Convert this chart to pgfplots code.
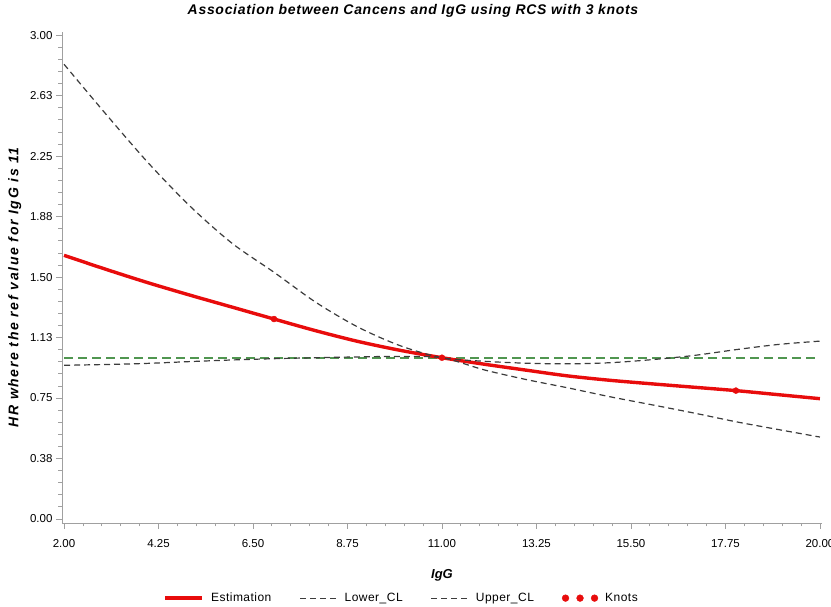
\documentclass[border=0pt]{standalone}
\usepackage{fontspec}
\setmainfont{Liberation Sans}
\newfontfamily\titlefont[LetterSpace=5]{Liberation Sans}
\newfontfamily\ylabfont[LetterSpace=12]{Liberation Sans}
\newfontfamily\legfont[LetterSpace=4]{Liberation Sans}
\usepackage{pgfplots}
\pgfplotsset{compat=1.18}
\definecolor{estred}{RGB}{232,12,12}
\definecolor{cldark}{RGB}{60,60,60}
\definecolor{refgreen}{RGB}{80,150,80}
\definecolor{axgray}{RGB}{160,160,160}
\begin{document}
\begin{tikzpicture}[x=1pt,y=1pt]
\path[use as bounding box] (-62,-84) rectangle (769,523);
\begin{axis}[
  at={(0,0)}, anchor=south west,
  scale only axis,
  width=760pt, height=491pt,
  xmin=1.952, xmax=20.05,
  ymin=-0.025, ymax=3.02,
  axis lines*=left,
  axis line style={axgray, line width=0.9pt},
  tick style={axgray, line width=0.8pt},
  tick align=outside,
  major tick length=6pt,
  minor tick length=3.5pt,
  minor tick num=4,
  xtick={2,4.25,6.5,8.75,11,13.25,15.5,17.75,20},
  xticklabels={2.00,4.25,6.50,8.75,11.00,13.25,15.50,17.75,20.00},
  ytick={0,0.375,0.75,1.125,1.5,1.875,2.25,2.625,3},
  yticklabels={0.00,0.38,0.75,1.13,1.50,1.88,2.25,2.63,3.00},
  tick label style={font=\fontsize{11.5}{13}\selectfont},
  xticklabel style={yshift=-7pt},
  xlabel={\textbf{\textit{IgG}}},
  xlabel style={font=\fontsize{13}{15}\selectfont, yshift=-15pt},
  ylabel={\ylabfont\bfseries\itshape HR where the ref value for IgG is 11},
  ylabel style={font=\fontsize{14}{16}\selectfont, at={(ticklabel cs:0.48)}, yshift=2pt},
  legend style={at={(0.447,-0.153)}, anchor=center, legend columns=4, draw=none,
    font=\legfont\fontsize{12}{14}\selectfont,
    /tikz/every odd column/.append style={column sep=5pt},
    /tikz/every even column/.append style={column sep=26pt}},
  legend image code/.code={\draw[#1] (0pt,0pt) -- (37pt,0pt);},
]
\addplot[refgreen, line width=1.6pt, dash pattern=on 9pt off 5pt, forget plot] coordinates {(2,1.0) (20,1.0)};
\addplot[estred, line width=3.4pt, smooth] coordinates {
(2,1.635) (3,1.548) (4,1.465) (5,1.388) (6,1.314) (7,1.240) (8,1.167) (9,1.101) (10,1.046) (11,1.000)
(12,0.960) (13,0.923) (14,0.887) (15,0.860) (16,0.838) (17,0.817) (18,0.796) (19,0.771) (20,0.746)};
\addlegendentry{Estimation}
\addplot[cldark, line width=1.2pt, dash pattern=on 6pt off 4pt, smooth] coordinates {
(2,0.953) (3,0.958) (4,0.965) (5,0.976) (6,0.986) (7,0.994) (8,1.000) (9,1.005) (10,1.008) (11,1.000)
(12,0.925) (13,0.865) (14,0.813) (15,0.758) (16,0.708) (17,0.657) (18,0.603) (19,0.555) (20,0.508)};
\addlegendentry{Lower\_CL}
\addplot[cldark, line width=1.2pt, dash pattern=on 6pt off 4pt, smooth] coordinates {
(2,2.82) (3,2.51) (4,2.21) (5,1.94) (6,1.71) (7,1.53) (8,1.343) (9,1.19) (10,1.075) (11,1.000)
(12,0.978) (13,0.966) (14,0.962) (15,0.969) (16,0.988) (17,1.014) (18,1.050) (19,1.082) (20,1.103)};
\addlegendentry{Upper\_CL}
\addplot[only marks, mark=*, mark size=3pt, estred, legend image code/.code={\foreach \xx in {3,17.5,32}{\fill[estred] (\xx pt,0pt) circle (3.4pt);}}] coordinates {(7,1.240) (11,1.000) (18,0.796)};
\addlegendentry{Knots}
\end{axis}
\node[font=\titlefont\fontsize{14}{16}\selectfont\bfseries\itshape] at (351,512) {Association between Cancens and IgG using RCS with 3 knots};
\end{tikzpicture}
\end{document}
